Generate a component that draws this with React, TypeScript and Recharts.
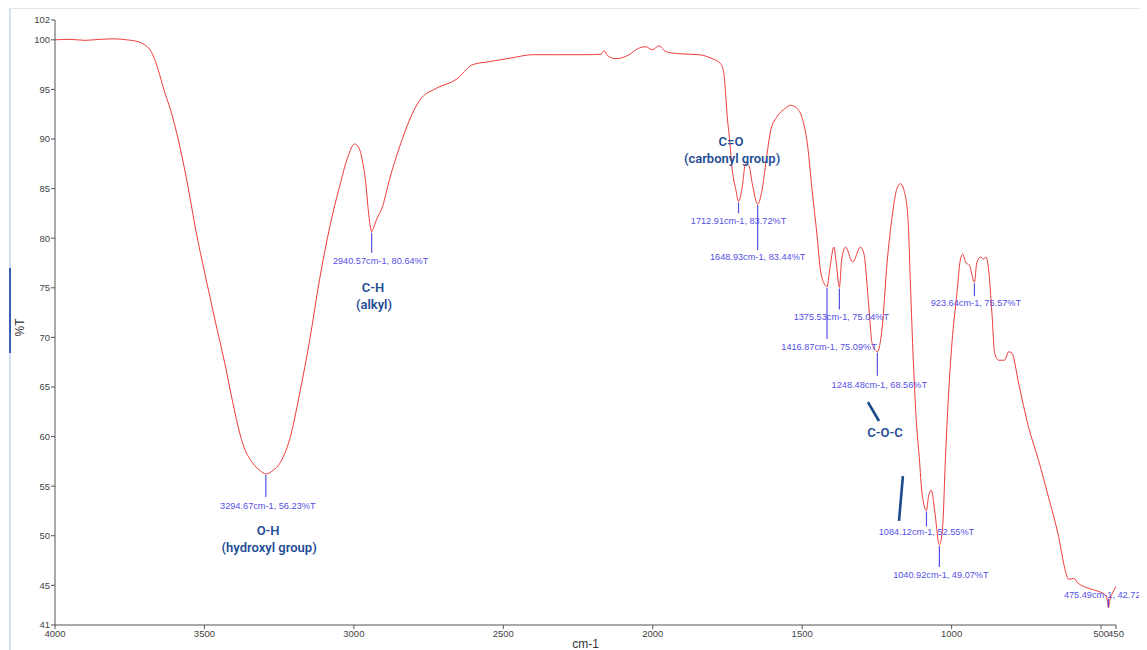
import React from 'react';
import { LineChart, Line, XAxis, YAxis, ReferenceDot, ReferenceLine } from 'recharts';

// ---- spectrum data (wavenumber in cm-1, transmittance in %T) ----
const wavenumbers = [
  4000, 3950, 3900, 3850, 3800, 3760, 3720, 3700, 3680, 3666, 3650, 3639, 3610, 3582, 3555, 3527, 3499,
  3465, 3432, 3405, 3372, 3338, 3315, 3294.67, 3270, 3248, 3215, 3181, 3148, 3115, 3081, 3048, 3020,
  2998, 2985, 2970, 2960, 2953, 2945, 2940.57, 2935, 2925, 2904, 2881, 2847, 2814, 2780, 2725, 2658,
  2602, 2547, 2469, 2402, 2313, 2224, 2173, 2162, 2151, 2123, 2079, 2051, 2023, 2001, 1979, 1956, 1912,
  1845, 1801, 1773, 1762, 1756, 1750, 1745, 1734, 1722, 1712.91, 1702, 1689, 1678, 1667, 1648.93, 1634,
  1622, 1605, 1583, 1556, 1539, 1517, 1500, 1483, 1467, 1450, 1439, 1424, 1416.87, 1408, 1394, 1386,
  1375.53, 1368, 1355, 1331, 1305, 1294, 1277, 1266, 1248.48, 1233, 1216, 1199, 1183, 1171, 1160, 1146,
  1138, 1128, 1118, 1108, 1099, 1084.12, 1077, 1068, 1057, 1040.92, 1030, 1021, 1010, 999, 982, 971, 963,
  952, 941, 923.64, 916, 904, 893, 885, 876, 865, 856, 843, 823, 809, 798, 776, 743, 709, 676, 642, 620,
  609, 592, 576, 542, 509, 485, 478, 475.49, 470, 462, 450,
];
const transmittance = [
  100.0, 100.05, 99.95, 100.05, 100.1, 100.0, 99.8, 99.5, 98.9, 98.0, 96.5, 95.3, 92.6, 89.2, 85.2, 80.5, 76.5,
  71.8, 67.4, 63.4, 59.3, 57.3, 56.6, 56.23, 56.6, 57.3, 59.7, 64.4, 69.7, 75.8, 81.1, 85.2, 88.2,
  89.5, 89.2, 87.6, 85.5, 83.2, 81.2, 80.64, 81.0, 81.8, 83.2, 85.9, 89.2, 91.9, 93.9, 95.1, 96.0,
  97.5, 97.8, 98.2, 98.5, 98.5, 98.5, 98.55, 98.9, 98.4, 98.1, 98.5, 99.1, 99.3, 99.0, 99.4, 98.8, 98.6,
  98.5, 98.1, 97.6, 96.6, 94.5, 92.0, 90.6, 86.9, 84.9, 83.72, 84.9, 87.5, 87.3, 85.5, 83.44, 84.9,
  87.5, 90.9, 92.3, 93.1, 93.4, 93.1, 92.1, 89.6, 84.9, 80.2, 76.8, 75.3, 75.09, 76.8, 79.1, 77.5,
  75.04, 77.8, 79.1, 77.6, 79.1, 78.5, 73.1, 69.4, 68.56, 70.8, 77.5, 82.2, 85.0, 85.5, 84.9, 82.0,
  75.5, 67.5, 61.5, 57.8, 54.3, 52.55, 54.0, 54.6, 52.6, 49.07, 50.9, 57.6, 64.4, 69.4, 74.5, 77.8, 78.4,
  77.5, 77.3, 75.57, 77.5, 78.1, 77.9, 78.1, 76.8, 72.4, 68.4, 67.7, 67.7, 68.55, 68.4, 65.4, 61.0, 57.6, 53.9, 49.9, 46.55,
  45.6, 45.7, 45.2, 44.7, 44.4, 44.0, 43.4, 42.72, 43.6, 44.2, 44.9,
];

const xTicks = [4000, 3500, 3000, 2500, 2000, 1500, 1000, 500, 450];
const yTicks = [41, 45, 50, 55, 60, 65, 70, 75, 80, 85, 90, 95, 100, 102];

// ---- picked peaks ----
const peakWavenumbers = [3294.67, 2940.57, 1712.91, 1648.93, 1416.87, 1375.53, 1248.48, 1084.12, 1040.92, 923.64, 475.49];
const peakTransmittance = [56.23, 80.64, 83.72, 83.44, 75.09, 75.04, 68.56, 52.55, 49.07, 75.57, 42.72];

// ---- functional group annotations ----
const groupTitles = ['O-H', 'C-H', 'C=O', 'C-O-C'];
const groupSubtitles = ['(hydroxyl group)', '(alkyl)', '(carbonyl group)', ''];
const groupWavenumbers = [3287, 2936, 1738, 1223];
const groupTransmittance = [50.48, 74.98, 89.7, 60.36];

// pointer strokes near C-O-C (data coordinates)
const pointerStartWavenumbers = [1280, 1163];
const pointerStartTransmittance = [63.48, 56.02];
const pointerEndWavenumbers = [1243, 1176];
const pointerEndTransmittance = [61.57, 51.49];

// ---- layout of peak labels (pixels relative to the peak point) ----
const peakLineLength = [23, 21, 12, 46, 52, 22, 24, 16, 22, 14, -9];
const peakLabelDx = [2, 9, 0, 0, 2, 2, 2, 0, 1.5, 1.5, -44.5];
const peakLabelDy = [35.5, 32.6, 22.2, 56.4, 63.6, 33, 36, 25, 33, 24, -10];
const peakLabelAnchor = ['middle', 'middle', 'middle', 'middle', 'middle', 'middle', 'middle', 'middle', 'middle', 'middle', 'start'];

const data = wavenumbers.map((wn, i) => ({ wn, t: transmittance[i] }));

const PEAK_COLOR = '#5650e6';
const GROUP_COLOR = '#1f4e96';
const AXIS_COLOR = '#555';
const TICK_FONT = { fontSize: 9.5, fill: '#444', fontFamily: 'Liberation Sans, Arial, sans-serif' };

export default function App() {
  return (
    <div style={{ position: 'relative', width: 1139, height: 642 }}>
      <div style={{ position: 'absolute', left: 1, top: 0, width: 2, height: 642, background: '#d3dff3' }} />
      <div style={{ position: 'absolute', left: 1, top: 260, width: 2, height: 85, background: '#3a5fb0' }} />
      <div style={{ position: 'absolute', left: 1, top: 0, width: 1132, height: 1, background: '#e4e4e4' }} />
      <div style={{ position: 'absolute', left: 1133, top: 0, width: 1, height: 642, background: '#e4e4e4' }} />
      <div style={{ position: 'absolute', left: 0, top: 0 }}>
        <LineChart width={1139} height={642} data={data} margin={{ top: 12, right: 31, bottom: 0, left: 0 }}>
          <XAxis
            dataKey="wn"
            type="number"
            domain={[450, 4000]}
            reversed
            ticks={xTicks}
            interval={0}
            allowDataOverflow
            height={25}
            tickSize={4}
            tickMargin={1}
            stroke={AXIS_COLOR}
            tick={TICK_FONT}
            label={{ value: 'cm-1', position: 'insideBottom', offset: 2, fontSize: 12, fill: '#333', fontFamily: 'Liberation Sans, Arial, sans-serif' }}
          />
          <YAxis
            type="number"
            domain={[41, 102]}
            ticks={yTicks}
            interval={0}
            allowDataOverflow
            width={47}
            tickSize={4}
            tickMargin={1}
            stroke={AXIS_COLOR}
            tick={TICK_FONT}
            label={{
              value: '%T',
              content: (props: any) => {
                const vb = props.viewBox || { x: 0, y: 0, width: 47, height: 605 };
                const x = vb.x + 12;
                const y = vb.y + vb.height / 2 + 5;
                return (
                  <text x={x} y={y} transform={`rotate(-90 ${x} ${y})`} textAnchor="middle" dominantBaseline="central"
                    fontSize={12} fill="#333" fontFamily="Liberation Sans, Arial, sans-serif">%T</text>
                );
              },
            }}
          />
          <Line type="monotone" dataKey="t" stroke="#ee3b3b" strokeWidth={1} dot={false} isAnimationActive={false} />

          {peakWavenumbers.map((wn, i) => (
            <ReferenceDot
              key={'pk' + i}
              x={wn}
              y={peakTransmittance[i]}
              r={0}
              ifOverflow="visible"
              shape={(p: any) => {
                const cx = p.cx;
                const cy = p.cy;
                const len = peakLineLength[i];
                return (
                  <g>
                    <line x1={cx} y1={cy + (len > 0 ? 1 : -1)} x2={cx} y2={cy + len} stroke={PEAK_COLOR} strokeWidth={1.2} />
                    <text
                      x={cx + peakLabelDx[i]}
                      y={cy + peakLabelDy[i]}
                      textAnchor={peakLabelAnchor[i] as any}
                      fontSize={9.2}
                      fill={PEAK_COLOR}
                      fontFamily="Liberation Sans, Arial, sans-serif"
                    >
                      {`${wn.toFixed(2)}cm-1, ${peakTransmittance[i].toFixed(2)}%T`}
                    </text>
                  </g>
                );
              }}
            />
          ))}

          {groupTitles.map((title, i) => (
            <ReferenceDot
              key={'gr' + i}
              x={groupWavenumbers[i]}
              y={groupTransmittance[i]}
              r={0}
              ifOverflow="visible"
              shape={(p: any) => (
                <g fontFamily="Roboto, 'Noto Sans', sans-serif" fontWeight={600} fontSize={13} fill={GROUP_COLOR} textAnchor="middle">
                  <text x={p.cx} y={p.cy} dominantBaseline="central">{title}</text>
                  {groupSubtitles[i] ? (
                    <text x={p.cx + 1} y={p.cy + 17} dominantBaseline="central">{groupSubtitles[i]}</text>
                  ) : null}
                </g>
              )}
            />
          ))}

          {pointerStartWavenumbers.map((wn, i) => (
            <ReferenceLine
              key={'pt' + i}
              segment={[
                { x: wn, y: pointerStartTransmittance[i] },
                { x: pointerEndWavenumbers[i], y: pointerEndTransmittance[i] },
              ]}
              stroke="#1a4a8a"
              strokeWidth={2.6}
              ifOverflow="visible"
            />
          ))}
        </LineChart>
      </div>
    </div>
  );
}
